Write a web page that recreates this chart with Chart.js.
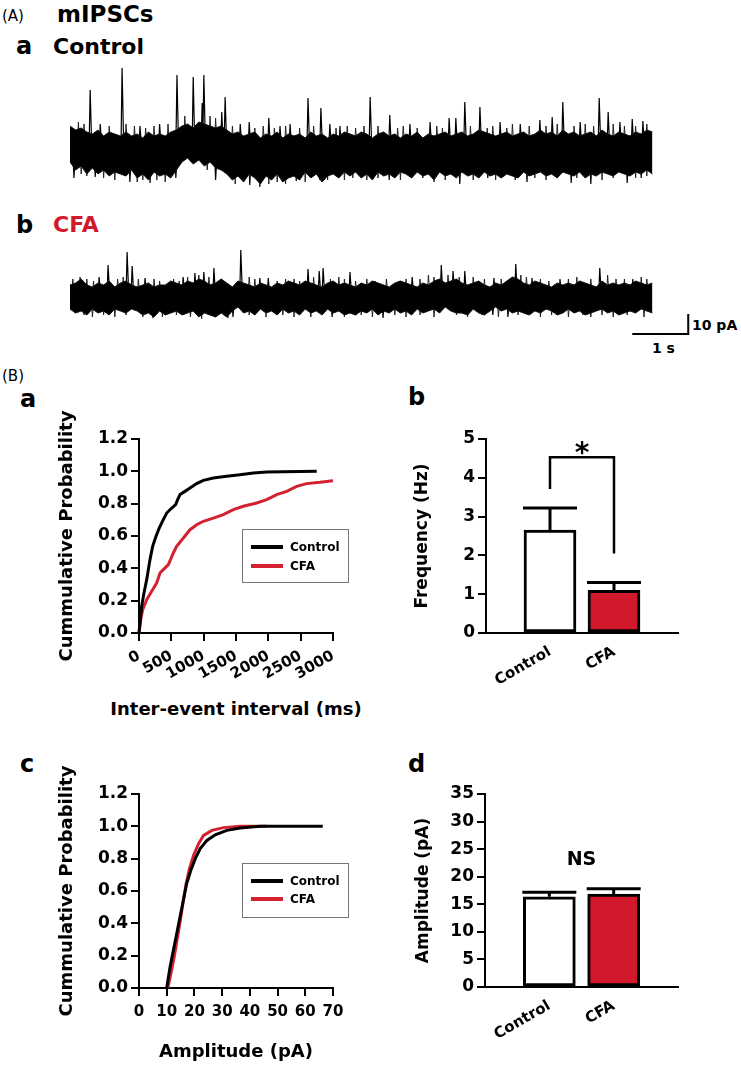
<!DOCTYPE html>
<html>
<head>
<meta charset="utf-8">
<script src="https://cdn.jsdelivr.net/npm/chart.js@4.4.1/dist/chart.umd.min.js"></script>
<style>
  body { margin: 0; background: #fff; width: 741px; height: 1067px; position: relative; overflow: hidden; font-family: "DejaVu Sans", sans-serif; }
  canvas { position: absolute; }
  .t { position: absolute; white-space: nowrap; line-height: 1; font-weight: bold; color: #000; }
</style>
</head>
<body>
<div class="t" style="left:2px;top:9px;font-size:15px;font-weight:normal">(A)</div>
<div class="t" style="left:57px;top:3px;font-size:23px">mIPSCs</div>
<div class="t" style="left:16px;top:34px;font-size:24px">a</div>
<div class="t" style="left:53px;top:36px;font-size:22px">Control</div>
<div class="t" style="left:16px;top:213px;font-size:24px">b</div>
<div class="t" style="left:53px;top:214px;font-size:22px;color:#d2192b">CFA</div>
<div class="t" style="left:692px;top:318px;font-size:14px">10 pA</div>
<div class="t" style="left:652px;top:341px;font-size:14px">1 s</div>
<div class="t" style="left:2px;top:369px;font-size:15px;font-weight:normal">(B)</div>
<div class="t" style="left:20px;top:387px;font-size:24px">a</div>
<div class="t" style="left:408px;top:385px;font-size:24px">b</div>
<div class="t" style="left:20px;top:752px;font-size:24px">c</div>
<div class="t" style="left:408px;top:752px;font-size:24px">d</div>
<div class="t" style="left:236px;top:700px;font-size:18px;transform:translateX(-50%)">Inter-event interval (ms)</div>

<canvas id="trace-control" style="left:70px;top:55px" width="600" height="145"></canvas>
<canvas id="trace-cfa" style="left:70px;top:240px" width="630" height="105"></canvas>
<canvas id="interval-chart" style="left:0;top:380px" width="370" height="344"></canvas>
<canvas id="freq-chart" style="left:360px;top:380px" width="381" height="320"></canvas>
<canvas id="amp-cdf-chart" style="left:0;top:735px" width="370" height="332"></canvas>
<canvas id="amp-chart" style="left:360px;top:735px" width="381" height="332"></canvas>

<script>
// --- traces (pA around baseline, one value every sampleStep seconds) ---
const sampleStep = 0.1;

const controlUpper = [12,10,11,9, 8,10,7,9,8,7, 9,7,8,6,9,7,8,7,9,10, 12,13,11,14,13,12,11,12,10,
  8,9,7,8,9,6,8,7,9,6,8, 7,8,6,9,7,8,6,8,7,9, 8,7,9,8,6,8,9,7,8,6, 8,7,9,6,8,7,8,9,7,8,
  9,7,8,10,9,8,7,8,9,7, 8,9,7,8,10,8,9,7,10,8, 9,7,8,9,7,10,8,7,9,8, 7,9,8,10,9];
const controlLower = [-6,-10,-8,-12, -9,-12,-10,-13,-11,-12, -13,-10,-14,-12,-15,-11,-13,-12,-14,-10,
  -6,-4,-7,-5,-8,-6,-9,-10,-12, -15,-13,-16,-12,-14,-17,-13,-15,-12,-16,-14,
  -13,-15,-11,-14,-12,-16,-13,-12,-14,-11, -13,-11,-14,-12,-15,-11,-13,-12,-14,-11,
  -12,-14,-11,-13,-12,-15,-11,-13,-12,-14, -11,-13,-12,-14,-11,-13,-12,-14,-12,-13,
  -14,-11,-13,-12,-11,-13,-12,-14,-11,-12, -13,-11,-14,-12,-13,-11,-12,-13,-11,-12, -13,-11,-12,-10,-12];
const controlPeaks = [[0.36,30],[0.93,41],[1.91,37.5],[2.2,36.5],[2.36,23.5],[2.39,37.5],[2.71,19],[2.77,26.5],
  [3.55,16],[4.25,26],[4.48,21],[5.36,26.5],[5.71,17.5],[6.77,16],[6.89,16],[7.05,24],[7.32,21.5],
  [8.61,16.5],[8.8,24],[9.45,26],[9.61,19],[10.04,15.5],[10.23,14.5],
  [0.54,13],[1.25,12],[1.6,13],[3.04,13],[3.2,14],[3.75,12],[3.93,13],[4.64,13],[4.82,12],
  [6.07,13],[6.43,14],[7.68,14],[8.04,13],[8.39,15],[9.11,14],[9.82,14],
  [0.07,-14],[0.45,-13.5],[1.07,-16],[1.43,-16.5],[1.89,-14],[2.6,-15],[3.21,-17.5],[3.39,-18.5],
  [4.04,-15.5],[4.46,-15],[5.18,-12.5],[5.7,-15],[6.3,-14],[6.96,-17],[7.46,-14],[7.95,-15],
  [8.16,-16],[8.95,-16.5],[9.3,-17],[9.95,-16.5],[10.2,-14]];
const controlTeeth = [[0.15,14],[0.25,13],[0.7,12],[1.0,13],[1.15,12],[1.35,11],[1.5,12],[1.75,13],[2.05,17],
  [2.5,17],[2.6,16],[2.9,12],[3.3,11],[3.45,12],[3.65,11],[3.85,12],[4.1,11],[4.35,12],[4.75,11],[4.95,12],
  [5.1,11],[5.25,12],[5.5,12],[5.85,11],[5.95,12],[6.2,11],[6.55,12],[6.65,11],[7.15,12],[7.45,11],[7.55,12],
  [7.8,11],[7.9,13],[8.2,12],[8.5,12],[8.7,13],[9.0,12],[9.2,13],[9.35,12],[9.7,13],[9.9,12],[10.1,12],[10.3,13],
  [0.2,-12],[0.3,-13],[0.6,-14],[0.8,-15],[1.2,-16],[1.3,-15],[1.55,-15],[1.7,-16],[2.45,-10],[2.95,-17],
  [3.1,-16],[3.55,-17],[3.7,-16],[3.85,-17],[4.2,-16],[4.6,-15],[4.9,-15],[5.05,-14],[5.3,-15],[5.5,-14],
  [5.9,-15],[6.1,-14],[6.5,-16],[6.7,-15],[7.2,-15],[7.6,-15],[7.7,-14],[8.3,-14],[8.5,-15],[8.7,-14],
  [9.05,-14],[9.5,-15],[9.7,-14],[10.1,-14],[10.3,-13]];

const cfaUpper = [6,7,9,6,5,7,6,8,5,7, 8,6,5,6,7,5,6,6,8,7, 6,8,7,9,8,6,7,9,7,5, 8,7,6,5,7,6,5,7,6,8,
  7,6,8,7,6,5,7,8,6,7, 6,5,7,6,8,7,6,5,7,8, 7,6,5,7,6,8,9,7,8,9, 7,6,7,8,6,5,7,6,8,10,
  9,7,6,8,7,6,5,7,6,7, 6,8,7,6,5,8,6,7,6,7, 6,8,7,6,7];
const cfaLower = [-6,-8,-7,-9,-6,-8,-7,-9,-6,-7, -8,-6,-7,-9,-8,-10,-7,-9,-8,-7, -9,-8,-7,-10,-8,-9,-10,-8,-10,-7,
  -5,-8,-7,-9,-6,-8,-7,-9,-6,-8, -7,-9,-6,-8,-7,-9,-6,-8,-7,-9, -8,-9,-7,-8,-6,-9,-7,-8,-6,-8,
  -7,-9,-6,-8,-7,-6,-8,-5,-7,-8, -8,-9,-6,-8,-9,-7,-5,-7,-6,-8, -7,-8,-9,-7,-8,-6,-7,-9,-8,-6,
  -8,-7,-9,-8,-7,-6,-8,-7,-9,-8, -7,-8,-6,-7,-8];
const cfaPeaks = [[0.18,10],[0.52,10],[0.68,16],[1.02,22.5],[1.11,15.5],[1.34,9.5],[2.02,10],[2.23,12],
  [2.39,12.5],[2.57,14.5],[3.05,23.5],[3.39,9.5],[3.54,9.5],[4.25,14],[4.45,13],[4.52,14.5],[5.0,12.5],
  [6.11,10],[6.63,16],[6.84,13],[7.05,13],[7.57,9.5],[7.96,16.5],[8.25,9.5],[8.75,9],[9.46,14.5],[10.05,9],
  [0.09,-8],[1.48,-10.5],[2.82,-10.5],[2.91,-10],[4.68,-10],[5.59,-10.5],[7.55,-9],[7.82,-10],[9.16,-9]];
const cfaTeeth = [[0.05,9],[0.3,9],[0.42,8],[0.85,9],[0.95,10],[1.22,9],[1.5,9],[1.6,8],[1.85,9],[1.95,8],
  [2.1,10],[2.3,11],[2.48,10],[2.7,9],[3.2,10],[3.3,9],[3.7,8],[3.85,9],[4.0,9],[4.1,8],[4.35,10],[4.65,9],
  [4.8,10],[4.9,9],[5.1,8],[5.3,9],[5.45,8],[5.65,9],[5.9,8],[6.0,9],[6.25,9],[6.4,11],[6.5,10],[6.75,11],
  [6.95,10],[7.2,10],[7.4,9],[7.7,9],[8.05,11],[8.15,10],[8.4,9],[8.55,8],[8.9,9],[9.05,10],[9.3,9],[9.6,11],
  [9.75,9],[9.9,9],[10.2,10],[10.3,9],
  [0.25,-9],[0.4,-10],[0.6,-9],[0.8,-10],[1.0,-9],[1.3,-10],[1.65,-10],[1.9,-9],[2.15,-10],[2.35,-11],
  [2.6,-10],[3.2,-9],[3.5,-10],[3.8,-9],[4.0,-10],[4.3,-10],[4.5,-9],[4.9,-10],[5.2,-9],[5.4,-10],[5.8,-9],
  [6.0,-10],[6.25,-9],[6.5,-10],[6.9,-9],[7.1,-10],[7.35,-9],[7.65,-10],[8.0,-9],[8.4,-10],[8.6,-9],[8.9,-10],
  [9.3,-10],[9.5,-9],[9.7,-10],[9.95,-9],[10.25,-10]];

const scaleBarSec = 1;
const scaleBarPA = 10;

// --- cumulative probability curves [x, p] ---
const intervalControl = [[0,0],[41,0.165],[77,0.247],[119,0.33],[170,0.454],[211,0.536],[263,0.598],[314,0.65],
  [376,0.701],[428,0.742],[505,0.773],[567,0.794],[598,0.825],[634,0.856],[711,0.876],[789,0.897],[892,0.924],
  [995,0.944],[1149,0.959],[1356,0.969],[1562,0.979],[1768,0.99],[1974,0.996],[2748,1.0]];
const intervalCfa = [[0,0],[26,0.082],[57,0.144],[119,0.206],[196,0.258],[273,0.309],[325,0.371],[376,0.392],
  [454,0.423],[531,0.495],[582,0.536],[686,0.588],[789,0.639],[892,0.67],[995,0.691],[1149,0.711],[1304,0.732],
  [1459,0.763],[1613,0.784],[1820,0.804],[1974,0.825],[2129,0.856],[2284,0.876],[2438,0.907],[2593,0.924],
  [2799,0.932],[3000,0.942]];
const ampControl = [[10,0],[11.2,0.13],[12.4,0.233],[13.6,0.336],[14.8,0.439],[16,0.542],[17.2,0.645],[18.7,0.728],
  [20.3,0.8],[22.1,0.862],[24.5,0.913],[27.5,0.948],[31.7,0.975],[36.5,0.99],[43.8,1.0],[66.3,1.0]];
const ampCfa = [[10.4,0],[11.5,0.089],[12.7,0.192],[13.9,0.315],[15.1,0.439],[16,0.542],[17,0.645],[18.2,0.738],
  [19.7,0.821],[21.5,0.893],[23.3,0.944],[26.3,0.975],[30.5,0.992],[36.5,1.0],[46.2,1.0]];

// --- bar summaries ---
const groups = ['Control', 'CFA'];
const freqMean = [2.65, 1.1];
const freqSem = [0.57, 0.2];
const freqBracket = [3.71, 4.53, 2.05]; // left foot, top, right foot (Hz)
const freqStarAt = 4.81;
const ampMean = [16.35, 16.85];
const ampSem = [0.85, 0.95];
const ampNsAt = 23;

const black = '#000';
const red = '#d42130';
const barRed = '#d2192b';

Chart.defaults.font.family = '"DejaVu Sans", sans-serif';
Chart.defaults.font.weight = 'bold';
Chart.defaults.color = black;
Chart.defaults.animation = false;

const baseOptions = (padding) => ({
  responsive: false,
  devicePixelRatio: 1,
  events: [],
  layout: { padding },
  plugins: { legend: { display: false }, tooltip: { enabled: false } },
  elements: { point: { radius: 0 }, line: { tension: 0 } }
});

const toPoints = pairs => pairs.map(([x, y]) => ({ x, y }));

// each event is a thin spike rising from the middle of the band
const spikePoints = list => {
  const pts = [];
  list.forEach(([t, a]) => {
    pts.push({ x: t - 0.02, y: 0 }, { x: t, y: a }, { x: t + 0.03, y: 0 }, { x: t, y: null });
  });
  return pts;
};

const drawTrace = (id, upper, lower, peaks, teeth, yMin, yMax, xMax, extra) => {
  const sampled = arr => arr.map((v, i) => ({ x: i * sampleStep, y: v }));
  const datasets = [
    { data: sampled(upper), borderColor: '#111', borderWidth: 1, fill: false, clip: false },
    { data: sampled(lower), borderColor: '#111', borderWidth: 1, fill: '-1', backgroundColor: black, clip: false },
    { data: spikePoints(teeth), borderColor: '#222', borderWidth: 1, fill: false, spanGaps: false, clip: false },
    { data: spikePoints(peaks), borderColor: black, borderWidth: 1.2, fill: false, spanGaps: false, clip: false }
  ];
  if (extra) datasets.push(extra);
  new Chart(document.getElementById(id), {
    type: 'line',
    data: { datasets },
    options: {
      ...baseOptions(0),
      scales: {
        x: { type: 'linear', min: 0, max: xMax, display: false },
        y: { min: yMin, max: yMax, display: false }
      }
    }
  });
};

drawTrace('trace-control', controlUpper, controlLower, controlPeaks, controlTeeth, -25, 47.5, 600 / 56);

const barEnd = 11.04;
const barBase = -18.5;
drawTrace('trace-cfa', cfaUpper, cfaLower, cfaPeaks, cfaTeeth, -24, 28.5, 630 / 56, {
  data: [
    { x: barEnd - scaleBarSec, y: barBase },
    { x: barEnd, y: barBase },
    { x: barEnd, y: barBase + scaleBarPA }
  ],
  borderColor: black, borderWidth: 2, fill: false, clip: false
});

// legend box drawn at a fixed spot inside the panel
const boxLegend = {
  id: 'boxLegend',
  afterDraw(chart, args, opts) {
    if (!opts.box) return;
    const { ctx } = chart;
    const { x, y, w, h } = opts.box;
    ctx.save();
    ctx.fillStyle = '#fff';
    ctx.fillRect(x, y, w, h);
    ctx.strokeStyle = '#777';
    ctx.lineWidth = 1;
    ctx.strokeRect(x + 0.5, y + 0.5, w, h);
    ctx.font = 'bold 12px "DejaVu Sans"';
    ctx.textBaseline = 'middle';
    chart.data.datasets.forEach((ds, i) => {
      const ly = y + opts.rows[i];
      ctx.strokeStyle = ds.borderColor;
      ctx.lineWidth = 4;
      ctx.beginPath();
      ctx.moveTo(x + 9, ly);
      ctx.lineTo(x + 41, ly);
      ctx.stroke();
      ctx.fillStyle = black;
      ctx.fillText(ds.label, x + 48, ly + 1);
    });
    ctx.restore();
  }
};

const axisStyle = (extra) => ({
  grid: { drawOnChartArea: false, tickLength: 8, color: black, lineWidth: 2 },
  border: { color: black, width: 2 },
  ...extra
});

const cdfChart = (id, control, cfa, xOpts, legendBox, padding, yWidth, xHeight) => {
  new Chart(document.getElementById(id), {
    type: 'line',
    data: {
      datasets: [
        { label: 'Control', data: toPoints(control), borderColor: black, borderWidth: 3, clip: false },
        { label: 'CFA', data: toPoints(cfa), borderColor: red, borderWidth: 3, clip: false }
      ]
    },
    options: {
      ...baseOptions(padding),
      plugins: { legend: { display: false }, tooltip: { enabled: false }, boxLegend: legendBox },
      scales: {
        x: axisStyle({
          type: 'linear',
          ...xOpts,
          afterFit: s => { s.height = xHeight; }
        }),
        y: axisStyle({
          min: 0, max: 1.2,
          ticks: { stepSize: 0.2, padding: 3, font: { size: 17 }, callback: v => v.toFixed(1) },
          title: { display: true, text: 'Cummulative Probability', font: { size: 18 } },
          afterFit: s => { s.width = yWidth; }
        })
      }
    },
    plugins: [boxLegend]
  });
};

cdfChart('interval-chart', intervalControl, intervalCfa, {
  min: 0, max: 3000,
  ticks: { stepSize: 500, autoSkip: false, minRotation: 30, maxRotation: 30, padding: 6, font: { size: 15 }, callback: v => String(v) }
}, { box: { x: 242, y: 149, w: 106, h: 53 }, rows: [18, 37] }, { left: 53, top: 59, right: 37, bottom: 0 }, 86, 91);

cdfChart('amp-cdf-chart', ampControl, ampCfa, {
  min: 0, max: 70,
  ticks: { stepSize: 10, autoSkip: false, maxRotation: 0, padding: 7, font: { size: 15 }, callback: v => String(v) },
  title: { display: true, text: 'Amplitude (pA)', font: { size: 18 } }
}, { box: { x: 242, y: 128, w: 106, h: 54 }, rows: [18, 36] }, { left: 53, top: 59, right: 37, bottom: 0 }, 86, 79);

// error bars, bracket and annotations for the bar panels
const barExtras = {
  id: 'barExtras',
  afterDatasetsDraw(chart, args, opts) {
    const { ctx } = chart;
    const xs = chart.scales.x;
    const ys = chart.scales.y;
    ctx.save();
    ctx.strokeStyle = black;
    ctx.lineWidth = 3;
    opts.mean.forEach((m, i) => {
      const cx = xs.getPixelForValue(i + 1);
      const top = ys.getPixelForValue(m + opts.sem[i]);
      ctx.beginPath();
      ctx.moveTo(cx, ys.getPixelForValue(m));
      ctx.lineTo(cx, top);
      ctx.moveTo(cx - 27, top);
      ctx.lineTo(cx + 27, top);
      ctx.stroke();
    });
    if (opts.bracket) {
      const [l, t, r] = opts.bracket;
      const x1 = xs.getPixelForValue(1);
      const x2 = xs.getPixelForValue(2);
      ctx.lineWidth = 2.5;
      ctx.beginPath();
      ctx.moveTo(x1, ys.getPixelForValue(l));
      ctx.lineTo(x1, ys.getPixelForValue(t));
      ctx.lineTo(x2, ys.getPixelForValue(t));
      ctx.lineTo(x2, ys.getPixelForValue(r));
      ctx.stroke();
    }
    if (opts.mark) {
      ctx.fillStyle = black;
      ctx.textAlign = 'center';
      ctx.font = `bold ${opts.mark.size}px "DejaVu Sans"`;
      ctx.textBaseline = opts.mark.baseline;
      ctx.fillText(opts.mark.text, xs.getPixelForValue(1.5), ys.getPixelForValue(opts.mark.at) + opts.mark.shift);
    }
    ctx.restore();
  }
};

const barChart = (id, mean, sem, yOpts, extras, xHeight, padding, yWidth) => {
  new Chart(document.getElementById(id), {
    type: 'bar',
    data: {
      datasets: [{
        data: mean.map((m, i) => ({ x: i + 1, y: m })),
        backgroundColor: ['#fff', barRed],
        borderColor: black,
        borderWidth: 3,
        borderSkipped: false,
        barThickness: 52
      }]
    },
    options: {
      ...baseOptions(padding),
      plugins: { legend: { display: false }, tooltip: { enabled: false }, barExtras: { mean, sem, ...extras } },
      scales: {
        x: {
          type: 'linear', min: 0, max: 3, offset: false,
          grid: { display: false, offset: false },
          border: { color: black, width: 2 },
          ticks: {
            stepSize: 1, autoSkip: false, minRotation: 30, maxRotation: 30, padding: 2,
            font: { size: 15 }, callback: v => groups[v - 1] || ''
          },
          afterFit: s => { s.height = xHeight; }
        },
        y: axisStyle({
          ...yOpts,
          afterFit: s => { s.width = yWidth; }
        })
      }
    },
    plugins: [barExtras]
  });
};

barChart('freq-chart', freqMean, freqSem, {
  min: 0, max: 5,
  ticks: { stepSize: 1, padding: 3, font: { size: 17 } },
  title: { display: true, text: 'Frequency (Hz)', font: { size: 17 } }
}, {
  bracket: freqBracket,
  mark: { text: '*', at: freqStarAt, size: 28, baseline: 'alphabetic', shift: 16 }
}, 67, { left: 48, top: 59, right: 63, bottom: 0 }, 78);

barChart('amp-chart', ampMean, ampSem, {
  min: 0, max: 35,
  ticks: { stepSize: 5, padding: 3, font: { size: 17 } },
  title: { display: true, text: 'Amplitude (pA)', font: { size: 17 } }
}, {
  mark: { text: 'NS', at: ampNsAt, size: 19, baseline: 'middle', shift: 0 }
}, 80, { left: 49, top: 59, right: 63, bottom: 0 }, 76);
</script>
</body>
</html>
